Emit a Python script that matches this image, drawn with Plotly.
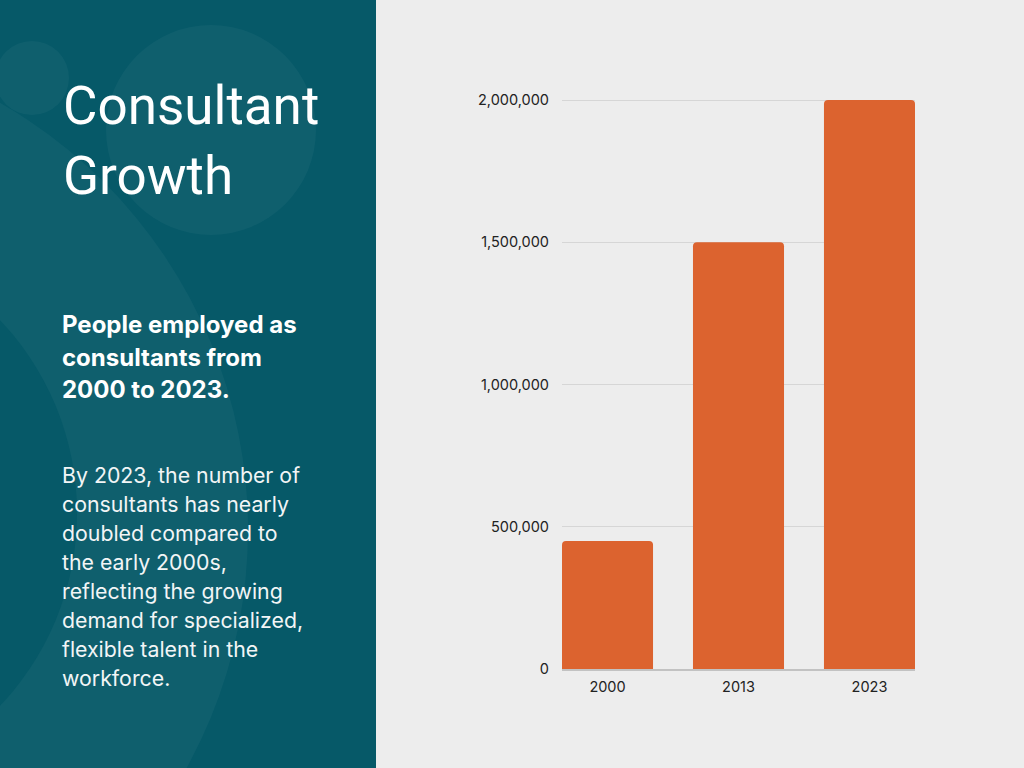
import plotly.graph_objects as go

# ---- data ----
years = ["2000", "2013", "2023"]
consultants = [450000, 1500000, 2000000]
y_ticks = [0, 500000, 1000000, 1500000, 2000000]

title_lines = ["Consultant", "Growth"]
subtitle_lines = ["People employed as", "consultants from", "2000 to 2023."]
body_lines = [
    "By 2023, the number of",
    "consultants has nearly",
    "doubled compared to",
    "the early 2000s,",
    "reflecting the growing",
    "demand for specialized,",
    "flexible talent in the",
    "workforce.",
]

W, H = 1024, 768
TEAL = "#065968"
LIGHT = "rgba(255,255,255,0.04)"
BG = "#ededed"
BAR = "#dc632f"


def px(x):
    return x / W


def py(y):
    return 1 - y / H


fig = go.Figure()
fig.add_trace(go.Bar(
    x=years, y=consultants, marker=dict(color=BAR, line=dict(width=0)),
    hoverinfo="x+y",
))

shapes = []
# left panel
shapes.append(dict(type="rect", xref="paper", yref="paper", x0=0, x1=px(376), y0=0, y1=1,
                   fillcolor=TEAL, line=dict(width=0), layer="below"))


def circle(cx, cy, r, color):
    return dict(type="circle", xref="paper", yref="paper",
                x0=px(cx - r), x1=px(cx + r), y0=py(cy + r), y1=py(cy - r),
                fillcolor=color, line=dict(width=0), layer="below")


shapes.append(circle(-244, 530, 492, LIGHT))
shapes.append(circle(-203, 513, 280, TEAL))
shapes.append(circle(211, 130, 105, LIGHT))
shapes.append(circle(32, 78, 37, LIGHT))

annotations = []


def add_line(text, x, baseline, size, family, weight, color, descent):
    annotations.append(dict(
        text=text, xref="paper", yref="paper", x=px(x), y=py(baseline + descent),
        xanchor="left", yanchor="bottom", showarrow=False, align="left",
        font=dict(size=size, family=family, color=color, weight=weight),
    ))


for i, t in enumerate(title_lines):
    add_line(t, 61, 125 + 70 * i, 53, "Roboto", 400, "#ffffff", 14)
for i, t in enumerate(subtitle_lines):
    add_line(t, 60, 333 + 32 * i, 24, "Inter", 700, "#ffffff", 8.5)
for i, t in enumerate(body_lines):
    add_line(t, 60, 483 + 29 * i, 21.3, "Inter", 400, "#f2f5f6", 7)

ytop = 2020000
plot_h = (669 - 100) * ytop / 2000000

fig.update_layout(
    width=W, height=H,
    autosize=False,
    margin=dict(l=0, r=0, t=0, b=0, pad=0, autoexpand=False),
    paper_bgcolor=BG, plot_bgcolor="rgba(0,0,0,0)",
    showlegend=False,
    bargap=0.305,
    barcornerradius=4,
    shapes=shapes,
    annotations=annotations,
    xaxis=dict(
        domain=[px(562), px(915)],
        range=[-0.3475, 2.3475],
        type="category",
        showgrid=False, zeroline=False,
        showline=True, linecolor="#c2c2c2", linewidth=2,
        ticks="", ticklabelstandoff=4,
        tickfont=dict(family="Inter", size=14.5, color="#222222"),
        fixedrange=True,
    ),
    yaxis=dict(
        domain=[py(669), py(669 - plot_h)],
        range=[0, ytop],
        tickvals=y_ticks, tickformat=",d",
        showgrid=True, gridcolor="#d6d6d6", gridwidth=1,
        zeroline=False, showline=False, ticks="",
        ticklabelstandoff=12,
        tickfont=dict(family="Inter", size=14.5, color="#222222"),
        fixedrange=True,
    ),
)

fig.write_html("out.html", config={"displayModeBar": False, "responsive": False},
               post_script="document.body.style.margin='0';document.body.style.overflow='hidden';")
